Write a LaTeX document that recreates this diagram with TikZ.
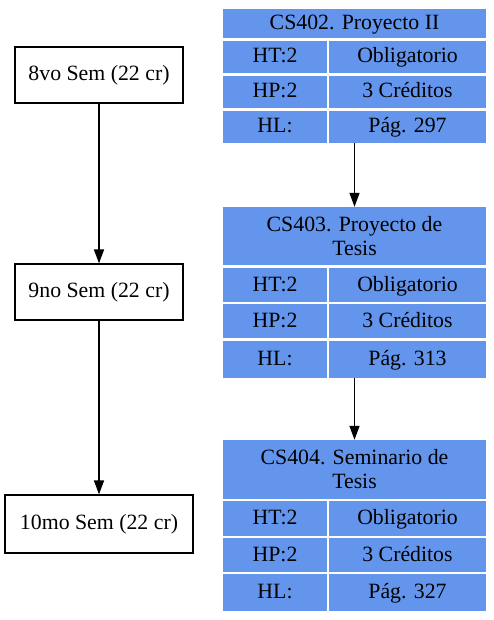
\documentclass[tikz,border=0pt]{standalone}
\usepackage{fontspec}
\setmainfont{Liberation Serif}
\usetikzlibrary{arrows.meta}
\definecolor{cellblue}{HTML}{6495ED}
\tikzset{
  sem/.style={draw,line width=1.2pt,minimum width=168pt,minimum height=56pt,inner sep=0pt},
  tbl/.style={inner sep=0pt,minimum width=263pt},
  hd/.style={fill=cellblue,inner sep=0pt,minimum width=263pt,align=center},
  lc/.style={fill=cellblue,inner sep=0pt,minimum width=104pt,text height=16pt,text depth=4pt},
  rc/.style={fill=cellblue,inner sep=0pt,minimum width=157pt,text height=16pt,text depth=4pt},
  arr/.style={line width=1.4pt,-{Triangle[width=10pt,length=14pt]}}
}
\begin{document}
\begin{tikzpicture}[x=1pt,y=-1pt,font=\fontsize{21.8}{24}\selectfont]
  \useasboundingbox (0,0) rectangle (494,620);
  % semesters
  \node[sem] (sem8) at (99,75) {8vo Sem (22 cr)};
  \node[sem] (sem9) at (99,292) {9no Sem (22 cr)};
  \node[sem,minimum width=188pt,minimum height=58pt] (sem10) at (99,524) {10mo Sem (22 cr)};
  % CS402
  \node[tbl,minimum height=134pt] (cs402) at (354.5,76) {};
  \node[hd,minimum height=29pt,text height=16pt,text depth=4pt] (cs402-h) at (354.5,23.5) {CS402. Proyecto II};
  \foreach \i/\y/\h/\a/\b in {1/57/32/HT:2/Obligatorio,2/92/32/HP:2/3 Créditos,3/127/32/HL:/Pág. 297}{
    \node[lc,minimum height=\h pt] (cs402-l\i) at (275,\y) {\a};
    \node[rc,minimum height=\h pt] (cs402-r\i) at (407.5,\y) {\b};
  }
  % CS403
  \node[tbl,minimum height=171pt] (cs403) at (354.5,292.5) {};
  \node[hd,minimum height=58pt] (cs403-h) at (354.5,236) {CS403. Proyecto de\\Tesis};
  \foreach \i/\y/\h/\a/\b in {1/285/34/HT:2/Obligatorio,2/321/34/HP:2/3 Créditos,3/359.5/37/HL:/Pág. 313}{
    \node[lc,minimum height=\h pt] (cs403-l\i) at (275,\y) {\a};
    \node[rc,minimum height=\h pt] (cs403-r\i) at (407.5,\y) {\b};
  }
  % CS404
  \node[tbl,minimum height=171pt] (cs404) at (354.5,525.5) {};
  \node[hd,minimum height=59pt] (cs404-h) at (354.5,469.5) {CS404. Seminario de\\Tesis};
  \foreach \i/\y/\h/\a/\b in {1/518.5/35/HT:2/Obligatorio,2/555/34/HP:2/3 Créditos,3/592.5/37/HL:/Pág. 327}{
    \node[lc,minimum height=\h pt] (cs404-l\i) at (275,\y) {\a};
    \node[rc,minimum height=\h pt] (cs404-r\i) at (407.5,\y) {\b};
  }
  \draw[arr] (sem8) -- (sem9);
  \draw[arr] (sem9) -- (sem10);
  \draw[arr] (cs402) -- (cs403);
  \draw[arr] (cs403) -- (cs404);
\end{tikzpicture}
\end{document}
